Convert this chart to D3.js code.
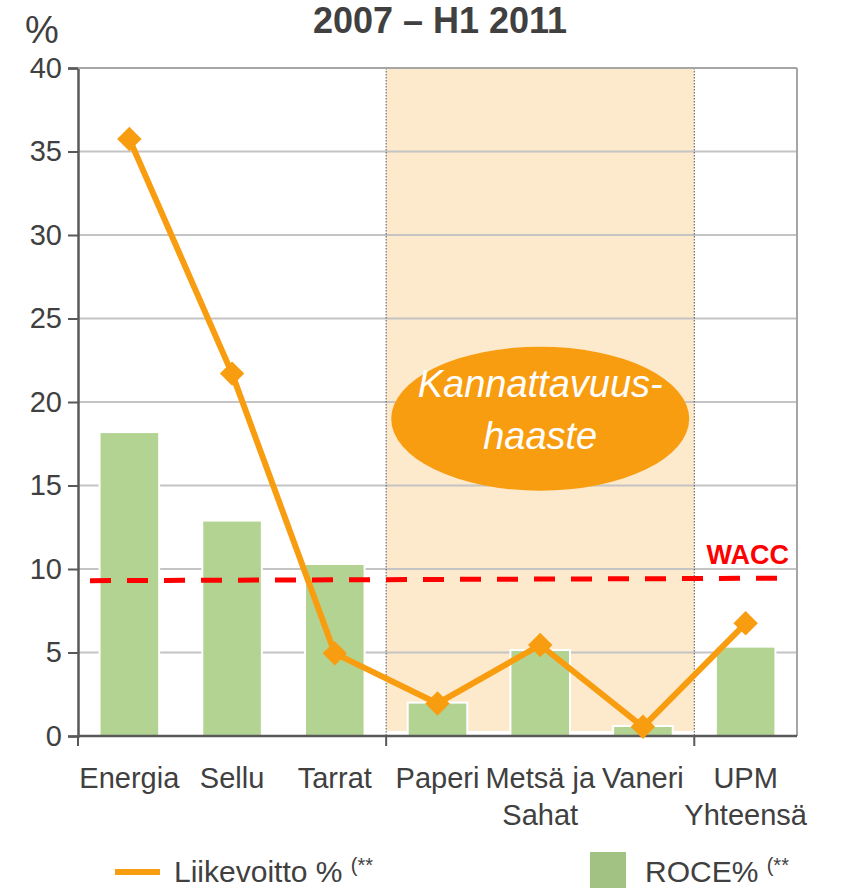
<!DOCTYPE html>
<html>
<head>
<meta charset="utf-8">
<script src="https://d3js.org/d3.v7.min.js"></script>
<style>
  body { margin: 0; background: #fff; }
  text { font-family: "Liberation Sans", Arial, sans-serif; }
</style>
</head>
<body>
<div id="chart"></div>
<script>
const categories = ["Energia", "Sellu", "Tarrat", "Paperi", "Metsä ja|Sahat", "Vaneri", "UPM|Yhteensä"];
const roce = [18.2, 12.9, 10.3, 2.0, 5.15, 0.6, 5.35];
const liikevoitto = [35.75, 21.7, 4.95, 1.95, 5.45, 0.55, 6.75];
const wacc = [9.3, 9.45];
const yTicks = [0, 5, 10, 15, 20, 25, 30, 35, 40];
const shaded = ["Paperi", "Metsä ja|Sahat", "Vaneri"];

const W = 850, H = 888;
const margin = {top: 68, right: 53, bottom: 152, left: 78};
const textColor = "#404040";
const orange = "#f99d10";

const svg = d3.select("#chart").append("svg")
    .attr("width", W)
    .attr("height", H);

const x = d3.scaleBand()
    .domain(categories)
    .range([margin.left, W - margin.right])
    .paddingInner(0.42)
    .paddingOuter(0.21);
const step = x.step();
const cx = d => x(d) + x.bandwidth() / 2;

const y = d3.scaleLinear()
    .domain([0, 40])
    .range([H - margin.bottom, margin.top]);

// shaded "challenge" area
const sx0 = cx(shaded[0]) - step / 2;
const sx1 = cx(shaded[shaded.length - 1]) + step / 2;
svg.append("rect")
    .attr("x", sx0)
    .attr("y", y(40))
    .attr("width", sx1 - sx0)
    .attr("height", y(0.3) - y(40))
    .attr("fill", "#fde9cb");

// gridlines
svg.append("g")
    .selectAll("line")
    .data(yTicks.filter(d => d > 0))
    .join("line")
    .attr("x1", margin.left)
    .attr("x2", W - margin.right)
    .attr("y1", d => y(d))
    .attr("y2", d => y(d))
    .attr("stroke", "#c4c4c4")
    .attr("stroke-width", 2);

// dotted separators
svg.append("g")
    .selectAll("line")
    .data([sx0, sx1])
    .join("line")
    .attr("x1", d => d).attr("x2", d => d)
    .attr("y1", y(40)).attr("y2", y(0))
    .attr("stroke", "#555")
    .attr("stroke-width", 1)
    .attr("stroke-dasharray", "1.5,1.5");

// right frame
svg.append("line")
    .attr("x1", W - margin.right).attr("x2", W - margin.right)
    .attr("y1", y(40)).attr("y2", y(0))
    .attr("stroke", "#a6a6a6")
    .attr("stroke-width", 2);

// bars
svg.append("g")
    .selectAll("rect")
    .data(categories)
    .join("rect")
    .attr("x", d => x(d))
    .attr("y", (d, i) => y(roce[i]))
    .attr("width", x.bandwidth())
    .attr("height", (d, i) => y(0) - y(roce[i]))
    .attr("fill", "#b3d393")
    .attr("stroke", "#fff")
    .attr("stroke-width", 2);

// WACC line
svg.append("line")
    .attr("x1", margin.left + 12)
    .attr("x2", W - margin.right - 8)
    .attr("y1", y(wacc[0]))
    .attr("y2", y(wacc[1]))
    .attr("stroke", "#ff0000")
    .attr("stroke-width", 5)
    .attr("stroke-dasharray", "21,16");

svg.append("text")
    .attr("x", W - margin.right - 8)
    .attr("y", 564)
    .attr("text-anchor", "end")
    .attr("font-size", 27)
    .attr("font-weight", "bold")
    .attr("fill", "#ff0000")
    .text("WACC");

// axes
const yAxis = d3.axisLeft(y).tickValues(yTicks).tickSize(10).tickPadding(6);
const gy = svg.append("g")
    .attr("transform", `translate(${margin.left},0)`)
    .call(yAxis);
gy.select(".domain").attr("stroke", "#595959").attr("stroke-width", 2.5);
gy.selectAll(".tick line").attr("stroke", "#595959").attr("stroke-width", 2);
gy.selectAll(".tick text")
    .attr("font-size", 29)
    .attr("fill", textColor)
    .attr("font-family", "Liberation Sans, Arial, sans-serif");

// x baseline and boundary ticks
svg.append("line")
    .attr("x1", margin.left).attr("x2", W - margin.right)
    .attr("y1", y(0)).attr("y2", y(0))
    .attr("stroke", "#595959")
    .attr("stroke-width", 2.5);
svg.append("g")
    .selectAll("line")
    .data([margin.left, sx0, sx1])
    .join("line")
    .attr("x1", d => d).attr("x2", d => d)
    .attr("y1", y(0)).attr("y2", y(0) + 10)
    .attr("stroke", "#595959")
    .attr("stroke-width", 2);

// top frame
svg.append("line")
    .attr("x1", margin.left).attr("x2", W - margin.right)
    .attr("y1", y(40)).attr("y2", y(40))
    .attr("stroke", "#a6a6a6")
    .attr("stroke-width", 2);

// category labels
const labels = svg.append("g")
    .selectAll("text")
    .data(categories)
    .join("text")
    .attr("x", d => cx(d))
    .attr("y", y(0) + 52)
    .attr("text-anchor", "middle")
    .attr("font-size", 29)
    .attr("fill", textColor);
labels.each(function(d) {
    const parts = d.split("|");
    d3.select(this).selectAll("tspan")
        .data(parts)
        .join("tspan")
        .attr("x", cx(d))
        .attr("dy", (p, i) => i === 0 ? 0 : 37)
        .text(p => p);
});

// ellipse annotation
const ex = (sx0 + sx1) / 2, ey = y(19);
svg.append("ellipse")
    .attr("cx", ex).attr("cy", ey)
    .attr("rx", 149).attr("ry", 72)
    .attr("fill", orange);
svg.append("text")
    .attr("x", ex).attr("y", ey - 22)
    .attr("text-anchor", "middle")
    .attr("font-size", 38)
    .attr("font-style", "italic")
    .attr("fill", "#fff")
    .text("Kannattavuus-");
svg.append("text")
    .attr("x", ex).attr("y", ey + 30)
    .attr("text-anchor", "middle")
    .attr("font-size", 38)
    .attr("font-style", "italic")
    .attr("fill", "#fff")
    .text("haaste");

// line series
const line = d3.line()
    .x((d, i) => cx(categories[i]))
    .y(d => y(d));
svg.append("path")
    .datum(liikevoitto)
    .attr("d", line)
    .attr("fill", "none")
    .attr("stroke", orange)
    .attr("stroke-width", 6)
    .attr("stroke-linejoin", "round");
svg.append("g")
    .selectAll("path")
    .data(liikevoitto)
    .join("path")
    .attr("d", d3.symbol(d3.symbolDiamond2, 380))
    .attr("transform", (d, i) => `translate(${cx(categories[i])},${y(d)})`)
    .attr("fill", orange);

// title and unit
svg.append("text")
    .attr("x", 440).attr("y", 33)
    .attr("text-anchor", "middle")
    .attr("font-size", 36)
    .attr("font-weight", "bold")
    .attr("fill", textColor)
    .text("2007 – H1 2011");
svg.append("text")
    .attr("x", 42).attr("y", 43)
    .attr("text-anchor", "middle")
    .attr("font-size", 38)
    .attr("fill", textColor)
    .text("%");

// legend
const ly = 872;
svg.append("line")
    .attr("x1", 115).attr("x2", 160)
    .attr("y1", ly).attr("y2", ly)
    .attr("stroke", orange)
    .attr("stroke-width", 6);
const t1 = svg.append("text")
    .attr("x", 174).attr("y", ly + 10)
    .attr("font-size", 30)
    .attr("fill", textColor);
t1.append("tspan").text("Liikevoitto % ");
t1.append("tspan").attr("font-size", 20).attr("dy", -10).text("(**");

svg.append("rect")
    .attr("x", 590).attr("y", 852)
    .attr("width", 36).attr("height", 36)
    .attr("fill", "#a2c283");
const t2 = svg.append("text")
    .attr("x", 645).attr("y", ly + 10)
    .attr("font-size", 30)
    .attr("fill", textColor);
t2.append("tspan").text("ROCE% ");
t2.append("tspan").attr("font-size", 20).attr("dy", -10).text("(**");
</script>
</body>
</html>
